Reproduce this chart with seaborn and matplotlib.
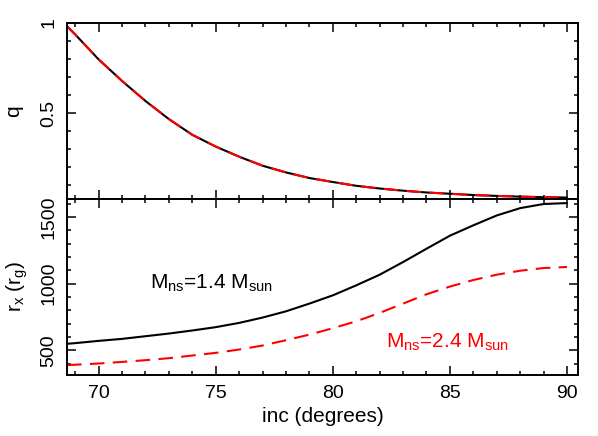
import pandas as pd
import seaborn as sns
import matplotlib.pyplot as plt
from matplotlib.ticker import MultipleLocator

# inclination grid (degrees)
inc = [68.65, 69, 70, 71, 72, 73, 74, 75, 76, 77, 78, 79,
       80, 81, 82, 83, 84, 85, 86, 87, 88, 89, 90]

# mass ratio q
q = [0.98, 0.935, 0.797, 0.678, 0.567, 0.467, 0.380, 0.315, 0.259, 0.209,
     0.172, 0.141, 0.119, 0.098, 0.083, 0.071, 0.061, 0.054, 0.047, 0.042,
     0.038, 0.035, 0.033]

# r_x in r_g for the two neutron star masses
rx_14 = [548, 553, 570, 585, 605, 625, 648, 673, 705, 745, 792, 850,
         912, 987, 1067, 1162, 1262, 1360, 1438, 1512, 1567, 1598, 1605]
rx_24 = [388, 391, 400, 412, 425, 440, 460, 480, 505, 535, 575, 617,
         665, 717, 780, 850, 920, 978, 1027, 1067, 1097, 1117, 1125]

x_ticks = [70, 75, 80, 85, 90]
q_ticks = [0.5, 1]
q_ticklabels = ["0.5", "1"]
r_ticks = [500, 1000, 1500]

label_14 = "M$_{\\rm ns}$=1.4 M$_{\\rm sun}$"
label_24 = "M$_{\\rm ns}$=2.4 M$_{\\rm sun}$"

df = pd.DataFrame({"inc": inc, "q": q, "rx_14": rx_14, "rx_24": rx_24})

sns.set_style("ticks")
plt.rcParams["font.family"] = ["Liberation Sans", "DejaVu Sans"]
plt.rcParams["mathtext.fontset"] = "custom"
plt.rcParams["mathtext.rm"] = "Liberation Sans"
plt.rcParams["mathtext.it"] = "Liberation Sans:italic"
plt.rcParams["axes.linewidth"] = 1.4
for key in ["text.color", "axes.labelcolor", "xtick.color", "ytick.color",
            "axes.edgecolor"]:
    plt.rcParams[key] = "black"

fig, (ax1, ax2) = plt.subplots(2, 1, sharex=True, figsize=(5.98, 4.36), dpi=100)
fig.subplots_adjust(left=0.112, right=0.9666, top=0.948, bottom=0.14, hspace=0)

dash = (0, (7, 4))

sns.lineplot(data=df, x="inc", y="q", color="black", lw=1.5, ax=ax1)
sns.lineplot(data=df, x="inc", y="q", color="red", lw=1.5, ls=dash, ax=ax1)

sns.lineplot(data=df, x="inc", y="rx_14", color="black", lw=1.5, ax=ax2)
sns.lineplot(data=df, x="inc", y="rx_24", color="red", lw=1.5, ls=dash, ax=ax2)

ax1.set_ylim(0.026, 1.0)
ax2.set_ylim(314, 1637)
ax2.set_xlim(68.65, 90.47)

ax1.set_yticks(q_ticks)
ax1.set_yticklabels(q_ticklabels)
ax1.yaxis.set_minor_locator(MultipleLocator(0.1))
ax2.set_yticks(r_ticks)
ax2.set_yticklabels([str(t) for t in r_ticks])
ax2.yaxis.set_minor_locator(MultipleLocator(100))
ax2.set_xticks(x_ticks)
ax2.set_xticklabels([str(t) for t in x_ticks])
ax2.xaxis.set_minor_locator(MultipleLocator(1))

for ax in (ax1, ax2):
    ax.tick_params(which="major", direction="in", length=6.5, width=1.1,
                   top=True, right=True, labelsize=14, pad=7, colors="black")
    ax.tick_params(which="minor", direction="in", length=3.2, width=1.1,
                   top=True, right=True, colors="black")
    plt.setp(ax.get_yticklabels(), rotation=90, va="center")
    for s in ax.spines.values():
        s.set_visible(True)
        s.set_linewidth(1.4)
        s.set_color("black")

ax1.set_xlabel("")
ax1.set_ylabel("q", fontsize=15)
ax2.set_ylabel("r$_{\\rm x}$ (r$_{\\rm g}$)", fontsize=15)
ax2.set_xlabel("inc (degrees)", fontsize=15, labelpad=4)
ax1.yaxis.set_label_coords(-0.085, 0.5)
ax2.yaxis.set_label_coords(-0.072, 0.5)

ax2.text(74.8, 1000, label_14, color="black", fontsize=15, ha="center", va="center")
ax2.text(84.9, 560, label_24, color="red", fontsize=15, ha="center", va="center")

fig.savefig("out.png", dpi=100)
